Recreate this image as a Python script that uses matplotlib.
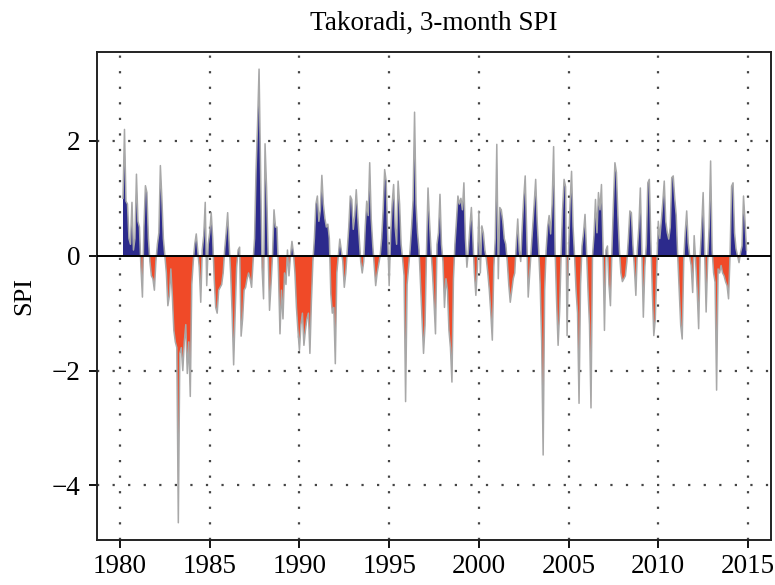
import numpy as np
import matplotlib
matplotlib.use("Agg")
import matplotlib.pyplot as plt

# Monthly 3-month SPI, Takoradi (first value = Mar 1980)
start_year = 1980
start_month_index = 2  # March 1980

spi_1980_84 = [1.0, 2.2, 0.95, 0.9, 0.3, 0.2, 0.93, 0.1, 0.3, 1.42,
               0.6, 0.5, -0.2, -0.72, 0.5, 1.22, 1.1, 0.3, -0.1, -0.35,
               -0.4, -0.6, -0.1, 0.2, 0.4, 1.57, 1.0, 0.3, 0.0, -0.3,
               -0.87, -0.7, -0.23, -0.7, -1.3, -1.5, -1.6, -4.65, -1.7, -1.6,
               -2.0, -1.5, -1.2, -2.05, -1.5, -2.45, -0.5, -0.1, 0.2, 0.38,
               0.1, -0.2, -0.81, 0.1, 0.35, 0.93, -0.52, 0.2]
spi_1985_89 = [0.4, 0.75, 0.3, -0.4, -0.9, -1.0, -0.6, -0.55, -0.5, -0.3,
               0.1, 0.4, 0.75, 0.2, -0.3, -1.0, -1.9, -1.0, -0.2, 0.1,
               0.15, -1.4, -1.1, -0.6, -0.55, -0.4, -0.3, -0.4, -0.55, -0.1,
               0.3, 1.5, 2.3, 3.25, 1.5, -0.2, -0.75, 1.95, 1.2, 0.1,
               -0.95, -0.5, 0.0, 0.8, 0.5, 0.5, -0.3, -1.36, -0.6, -1.1,
               -0.3, -0.5, 0.1, -0.35, 0.0, 0.25, 0.05, -0.3, -0.9, -1.3]
spi_1990_94 = [-1.65, -1.2, -1.0, -1.56, -1.3, -1.1, -1.0, -1.7, -0.8, -0.1,
               0.3, 0.9, 1.04, 0.6, 0.8, 1.4, 0.9, 0.65, 0.5, 0.55,
               0.3, -0.66, -1.0, -0.9, -1.88, -0.3, 0.0, 0.29, 0.1, -0.1,
               -0.55, -0.3, 0.1, 0.5, 1.04, 0.98, 0.46, 0.7, 1.15, 0.7,
               0.3, -0.1, -0.3, -0.1, 0.5, 0.95, 0.7, 1.62, 0.65, 0.2,
               -0.17, -0.52, -0.3, -0.15, 0.0, 0.3, 0.8, 1.5, 1.3, 0.4]
spi_1995_99 = [-0.52, 0.35, 0.9, 1.24, 0.5, 0.2, 1.3, 0.9, 0.2, -0.05,
               -0.35, -2.54, -0.5, -0.2, 0.1, 0.5, 0.97, 2.5, 0.9, 0.4,
               0.1, -0.5, -1.1, -1.7, -1.21, 0.1, 1.18, 0.6, 0.1, -0.3,
               -0.8, -1.36, 0.2, 0.4, 1.07, 0.2, -0.1, -0.9, -0.4, -0.6,
               -1.3, -1.6, -2.2, -0.4, 0.2, 0.6, 1.04, 0.9, 1.0, 0.8,
               1.27, 0.3, -0.2, 0.1, 0.5, 0.84, 0.3, -0.3, -0.69, -0.2]
spi_2000_04 = [0.78, -0.3, 0.52, 0.4, 0.1, -0.05, -0.3, -0.6, -1.0, -1.47,
               -0.2, 0.3, 1.94, -0.4, 0.84, 0.8, 0.6, 0.3, 0.2, -0.1,
               -0.5, -0.81, -0.6, -0.4, -0.3, 0.2, 0.64, 0.1, -0.1, 0.5,
               1.0, 1.39, 0.4, -0.72, -0.3, 0.1, 0.5, 0.9, 1.33, 0.6,
               0.1, -0.5, -1.5, -3.47, -0.6, 0.1, 0.5, 0.7, 0.38, 0.9,
               1.9, 0.1, -0.8, -1.56, -0.98, 0.0, 0.8, 1.33, 1.2, -1.39]
spi_2005_09 = [0.1, 0.9, 1.47, 0.5, 0.0, -0.6, -1.0, -2.57, -0.5, 0.17,
               0.4, 0.72, 0.1, -0.6, -1.2, -2.65, 0.0, 0.35, 0.98, 0.4,
               1.1, 0.8, 1.24, 0.2, -1.3, 0.1, 0.17, -0.5, -0.87, 0.1,
               0.9, 1.62, 1.45, 0.7, 0.1, -0.3, -0.45, -0.4, -0.35, -0.1,
               0.3, 0.78, 0.75, 0.2, -0.2, -0.69, 0.1, 0.5, 1.18, 0.1,
               -1.07, -0.2, 0.2, 1.27, 1.33, 0.3, -0.6, -1.39, -1.1, -0.2]
spi_2010_14 = [0.6, 0.3, 0.6, 0.93, 1.3, 0.6, 0.4, 0.29, 0.5, 1.36,
               1.39, 1.0, 0.7, 0.0, -0.6, -1.21, -1.45, -0.1, 0.4, 0.78,
               0.23, 0.0, -0.17, -0.64, 0.35, -0.1, -0.6, -1.27, 0.0, 0.5,
               1.1, 0.1, -0.98, -0.1, 0.5, 1.65, 0.1, -0.3, -0.46, -2.34,
               -0.23, -0.3, -0.17, -0.3, -0.35, -0.45, -0.52, -0.75, 0.0, 1.21,
               1.27, 0.4, 0.12, 0.0, -0.12, 0.05, 0.17, 1.04, 0.6, 0.1]

x_ticks = [1980, 1985, 1990, 1995, 2000, 2005, 2010, 2015]
y_ticks = [-4, -2, 0, 2]
title = "Takoradi, 3-month SPI"
ylabel = "SPI"

spi = np.array(spi_1980_84 + spi_1985_89 + spi_1990_94 + spi_1995_99
               + spi_2000_04 + spi_2005_09 + spi_2010_14)
t = start_year + (start_month_index + np.arange(len(spi))) / 12.0

plt.rcParams['font.family'] = ['Liberation Serif', 'DejaVu Serif']

fig = plt.figure(figsize=(7.75, 5.85), dpi=100)
ax = fig.add_axes([97 / 775, 45 / 585, 674 / 775, 488 / 585])

blue = '#2c2a8c'
red = '#f04a28'
gray = '#a8a8a8'
grid_kw = dict(color='#444444', lw=1.6, ls=(0, (1, 6)), zorder=1)

# grid
for xv in x_ticks:
    ax.axvline(xv, **grid_kw)
for yv in y_ticks:
    if yv != 0:
        ax.axhline(yv, **grid_kw)

ax.fill_between(t, spi, 0, where=spi >= 0, interpolate=True, color=blue, lw=0, zorder=2)
ax.fill_between(t, spi, 0, where=spi <= 0, interpolate=True, color=red, lw=0, zorder=2)
ax.plot(t, spi, color=gray, lw=1.1, zorder=3)
ax.axhline(0, color='black', lw=1.4, zorder=4)

ax.set_xlim(1978.718, 2016.282)
ax.set_ylim(-4.95, 3.548)
ax.set_xticks(x_ticks)
ax.set_yticks(y_ticks)
ax.set_yticklabels(['\u22124', '\u22122', '0', '2'])
ax.tick_params(axis='both', direction='out', length=6, width=1.3, labelsize=19.5, color='black')
ax.tick_params(axis='x', pad=4)
ax.tick_params(axis='y', pad=6)
for s in ax.spines.values():
    s.set_linewidth(1.4)
    s.set_color('#222222')

ax.set_ylabel(ylabel, fontsize=19, labelpad=12)
ax.set_title(title, fontsize=19.5, pad=16)

fig.savefig('out.png', dpi=100)
